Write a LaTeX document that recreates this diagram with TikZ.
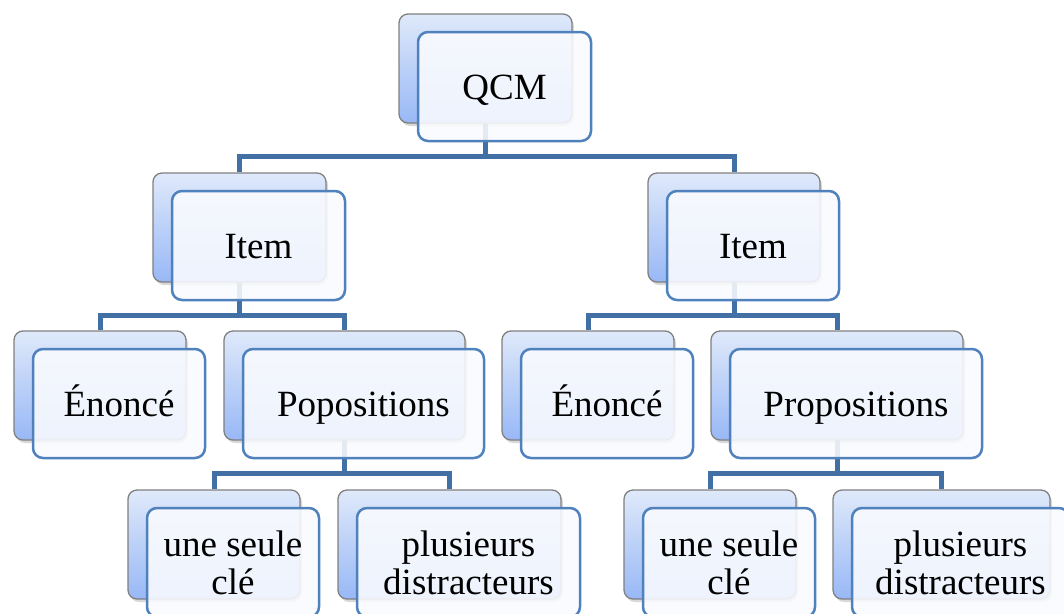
\documentclass[tikz,border=0pt]{standalone}
\usepackage{fontspec}
\setmainfont{Liberation Serif}
\usetikzlibrary{shadows,backgrounds}
\definecolor{connc}{RGB}{66,112,164}
\definecolor{frontedge}{RGB}{79,129,189}
\definecolor{backtop}{RGB}{223,233,250}
\definecolor{backbot}{RGB}{152,184,246}
\definecolor{backedge}{RGB}{128,128,128}
\definecolor{frontfill}{RGB}{250,251,254}
\begin{document}
\begin{tikzpicture}[x=1pt,y=-1pt,
  backbox/.style={rectangle, rounded corners=9pt, draw=backedge, line width=1.3pt,
    top color=backtop, bottom color=backbot, minimum height=109pt, inner sep=0pt,
    drop shadow={shadow xshift=2pt,shadow yshift=-3pt,opacity=0.3}},
  frontbox/.style={rectangle, rounded corners=10pt, draw=frontedge, line width=2.5pt,
    fill=frontfill, fill opacity=0.88, text opacity=1, minimum height=109pt,
    inner sep=0pt, align=center, font=\fontsize{37}{38}\selectfont},
  oneline/.style={text height=26pt, text depth=0pt},
  connline/.style={draw=connc, line width=5pt}]
\useasboundingbox (0,0) rectangle (1064,613);
\clip (0,0) rectangle (1064,613);
% back boxes
\node[backbox,minimum width=173pt] (qcmB)   at (485.5,68.5) {};
\node[backbox,minimum width=173pt] (itemLB) at (239.5,227.5) {};
\node[backbox,minimum width=172pt] (itemRB) at (734,227.5) {};
\node[backbox,minimum width=172pt] (enoLB)  at (100,385.5) {};
\node[backbox,minimum width=241pt] (popLB)  at (344.5,385.5) {};
\node[backbox,minimum width=172pt] (enoRB)  at (588,385.5) {};
\node[backbox,minimum width=252pt] (propRB) at (837,385.5) {};
\node[backbox,minimum width=172pt] (uneLB)  at (214,544.5) {};
\node[backbox,minimum width=223pt] (pluLB)  at (449.5,544.5) {};
\node[backbox,minimum width=172pt] (uneRB)  at (710,544.5) {};
\node[backbox,minimum width=217pt] (pluRB)  at (941.5,544.5) {};
% front boxes
\node[frontbox,oneline,minimum width=173pt] (qcm)   at (504.5,86.5) {QCM};
\node[frontbox,oneline,minimum width=173pt] (itemL) at (258.5,245.5) {Item};
\node[frontbox,oneline,minimum width=172pt] (itemR) at (753,245.5) {Item};
\node[frontbox,oneline,minimum width=172pt] (enoL)  at (119,403.5) {Énoncé};
\node[frontbox,oneline,minimum width=241pt] (popL)  at (363.5,403.5) {Popositions};
\node[frontbox,oneline,minimum width=172pt] (enoR)  at (607,403.5) {Énoncé};
\node[frontbox,oneline,minimum width=252pt] (propR) at (856,403.5) {Propositions};
\node[frontbox,minimum width=172pt] (uneL)  at (233,562.5) {une seule\\clé};
\node[frontbox,minimum width=223pt] (pluL)  at (468.5,562.5) {plusieurs\\distracteurs};
\node[frontbox,minimum width=172pt] (uneR)  at (729,562.5) {une seule\\clé};
\node[frontbox,minimum width=217pt] (pluR)  at (960.5,562.5) {plusieurs\\distracteurs};
% connectors
\begin{scope}[on background layer]
\fill[white] (0,0) rectangle (1064,613);
\draw[connline] (itemLB.north) -- ++(0,-16) -| (qcmB.center);
\draw[connline] (itemRB.north) -- ++(0,-16) -| (qcmB.center);
\draw[connline] (enoLB.north) -- ++(0,-15) -| (itemLB.center);
\draw[connline] (popLB.north) -- ++(0,-15) -| (itemLB.center);
\draw[connline] (enoRB.north) -- ++(0,-15) -| (itemRB.center);
\draw[connline] (propRB.north) -- ++(0,-15) -| (itemRB.center);
\draw[connline] (uneLB.north) -- ++(0,-16) -| (popLB.center);
\draw[connline] (pluLB.north) -- ++(0,-16) -| (popLB.center);
\draw[connline] (uneRB.north) -- ++(0,-16) -| (propRB.center);
\draw[connline] (pluRB.north) -- ++(0,-16) -| (propRB.center);
\end{scope}
\end{tikzpicture}
\end{document}
